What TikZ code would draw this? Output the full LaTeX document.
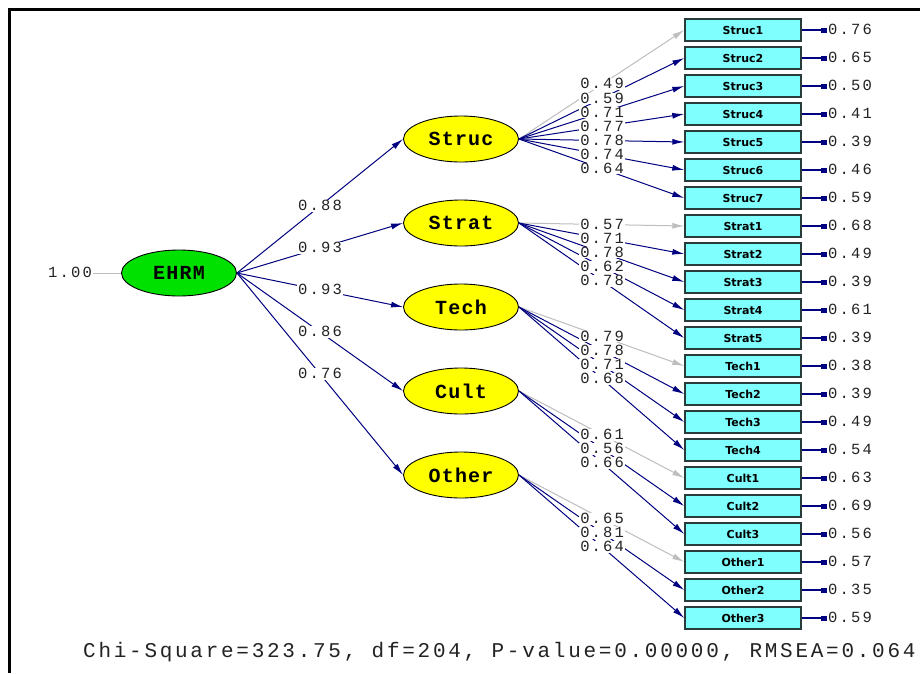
\documentclass[tikz,border=0pt]{standalone}
\usepackage{fontspec}
\setmainfont{Liberation Sans}
\newfontfamily\monof[LetterSpace=14]{Liberation Mono}
\newfontfamily\monobig[LetterSpace=13]{Liberation Mono}
\newfontfamily\monolat[LetterSpace=6]{Liberation Mono}
\newfontfamily\boxf{DejaVu Sans}
\usetikzlibrary{shapes.geometric,arrows.meta}
\definecolor{navyc}{RGB}{0,0,128}
\definecolor{grayc}{RGB}{190,190,190}
\definecolor{yell}{RGB}{255,255,0}
\definecolor{grn}{RGB}{0,225,0}
\definecolor{cyanb}{RGB}{128,255,255}
\definecolor{labc}{RGB}{35,35,35}
\definecolor{boxline}{RGB}{40,60,60}
\tikzset{
  latent/.style={ellipse, draw=black, line width=0.9pt, fill=yell, minimum width=115pt, minimum height=46pt, inner sep=0pt, font=\monolat\bfseries\fontsize{20}{20}\selectfont},
  obs/.style={rectangle, draw=boxline, line width=1.4pt, fill=cyanb, minimum width=116pt, minimum height=22pt, inner sep=0pt, font=\boxf\bfseries\fontsize{11}{11}\selectfont},
  numlab/.style={font=\monof\fontsize{15.5}{15.5}\selectfont, text=labc, inner sep=1pt, text height=9.5pt, text depth=0pt},
  wlab/.style={numlab, fill=white},
  path/.style={draw=navyc, line width=1pt, -{Latex[length=12pt,width=6pt]}},
  fixpath/.style={draw=grayc, line width=1pt, -{Latex[length=12pt,width=6pt]}},
  errpath/.style={draw=navyc, line width=1.6pt, -{Rectangle[length=6pt,width=5pt]}}
}
\begin{document}
\begin{tikzpicture}[x=1pt,y=-1pt]
\useasboundingbox (0,0) rectangle (920,673);
\fill[white] (0,0) rectangle (920,673);
\draw[line width=3.5pt] (9.5,673) -- (9.5,9.5) -- (920,9.5);

% latent variables
\node[latent, fill=grn] (EHRM) at (179,273) {EHRM};
\node[latent] (Struc) at (461,139) {Struc};
\node[latent] (Strat) at (461,223) {Strat};
\node[latent] (Tech) at (461,307) {Tech};
\node[latent] (Cult) at (461,391) {Cult};
\node[latent] (Other) at (461,475) {Other};

% observed variables with error variances
\foreach \n/\e [count=\i from 0] in {Struc1/0.76,Struc2/0.65,Struc3/0.50,Struc4/0.41,Struc5/0.39,Struc6/0.46,Struc7/0.59,Strat1/0.68,Strat2/0.49,Strat3/0.39,Strat4/0.61,Strat5/0.39,Tech1/0.38,Tech2/0.39,Tech3/0.49,Tech4/0.54,Cult1/0.63,Cult2/0.69,Cult3/0.56,Other1/0.57,Other2/0.35,Other3/0.59}{
  \node[obs] (\n) at (743,30+28*\i) {\n};
  \node[numlab, anchor=west] (e\n) at (827,30+28*\i) {\e};
  \draw[errpath] (\n.east) -- (e\n.west);
}

% EHRM variance
\node[numlab] (v1) at (70,273) {1.00};
\draw[grayc, line width=0.8pt] (v1.east) -- (EHRM.west);

% second-order loadings
\foreach \t/\v in {Struc/0.88,Strat/0.93,Tech/0.93,Cult/0.86,Other/0.76}{
  \draw[path] (EHRM.east) -- node[wlab, pos=0.5] {\v} (\t.west);
}

% first-order loadings: lines
\foreach \f/\o/\s in {Struc/Struc1/fixpath,Struc/Struc2/path,Struc/Struc3/path,Struc/Struc4/path,Struc/Struc5/path,Struc/Struc6/path,Struc/Struc7/path,
  Strat/Strat1/fixpath,Strat/Strat2/path,Strat/Strat3/path,Strat/Strat4/path,Strat/Strat5/path,
  Tech/Tech1/fixpath,Tech/Tech2/path,Tech/Tech3/path,Tech/Tech4/path,
  Cult/Cult1/fixpath,Cult/Cult2/path,Cult/Cult3/path,
  Other/Other1/fixpath,Other/Other2/path,Other/Other3/path}{
  \draw[\s] (\f.east) -- coordinate[pos=0.503] (m\o) (\o.west);
}
% first-order loadings: labels
\foreach \o/\v in {Struc1/0.49,Struc2/0.59,Struc3/0.71,Struc4/0.77,Struc5/0.78,Struc6/0.74,Struc7/0.64,
  Strat1/0.57,Strat2/0.71,Strat3/0.78,Strat4/0.62,Strat5/0.78,
  Tech1/0.79,Tech2/0.78,Tech3/0.71,Tech4/0.68,
  Cult1/0.61,Cult2/0.56,Cult3/0.66,
  Other1/0.65,Other2/0.81,Other3/0.64}{
  \node[wlab] (l\o) at (m\o) {\v};
}

\node[anchor=west, font=\monobig\fontsize{21}{21}\selectfont, text=labc, inner sep=0pt] (fit) at (83,652) {Chi-Square=323.75, df=204, P-value=0.00000, RMSEA=0.064};
\end{tikzpicture}
\end{document}
